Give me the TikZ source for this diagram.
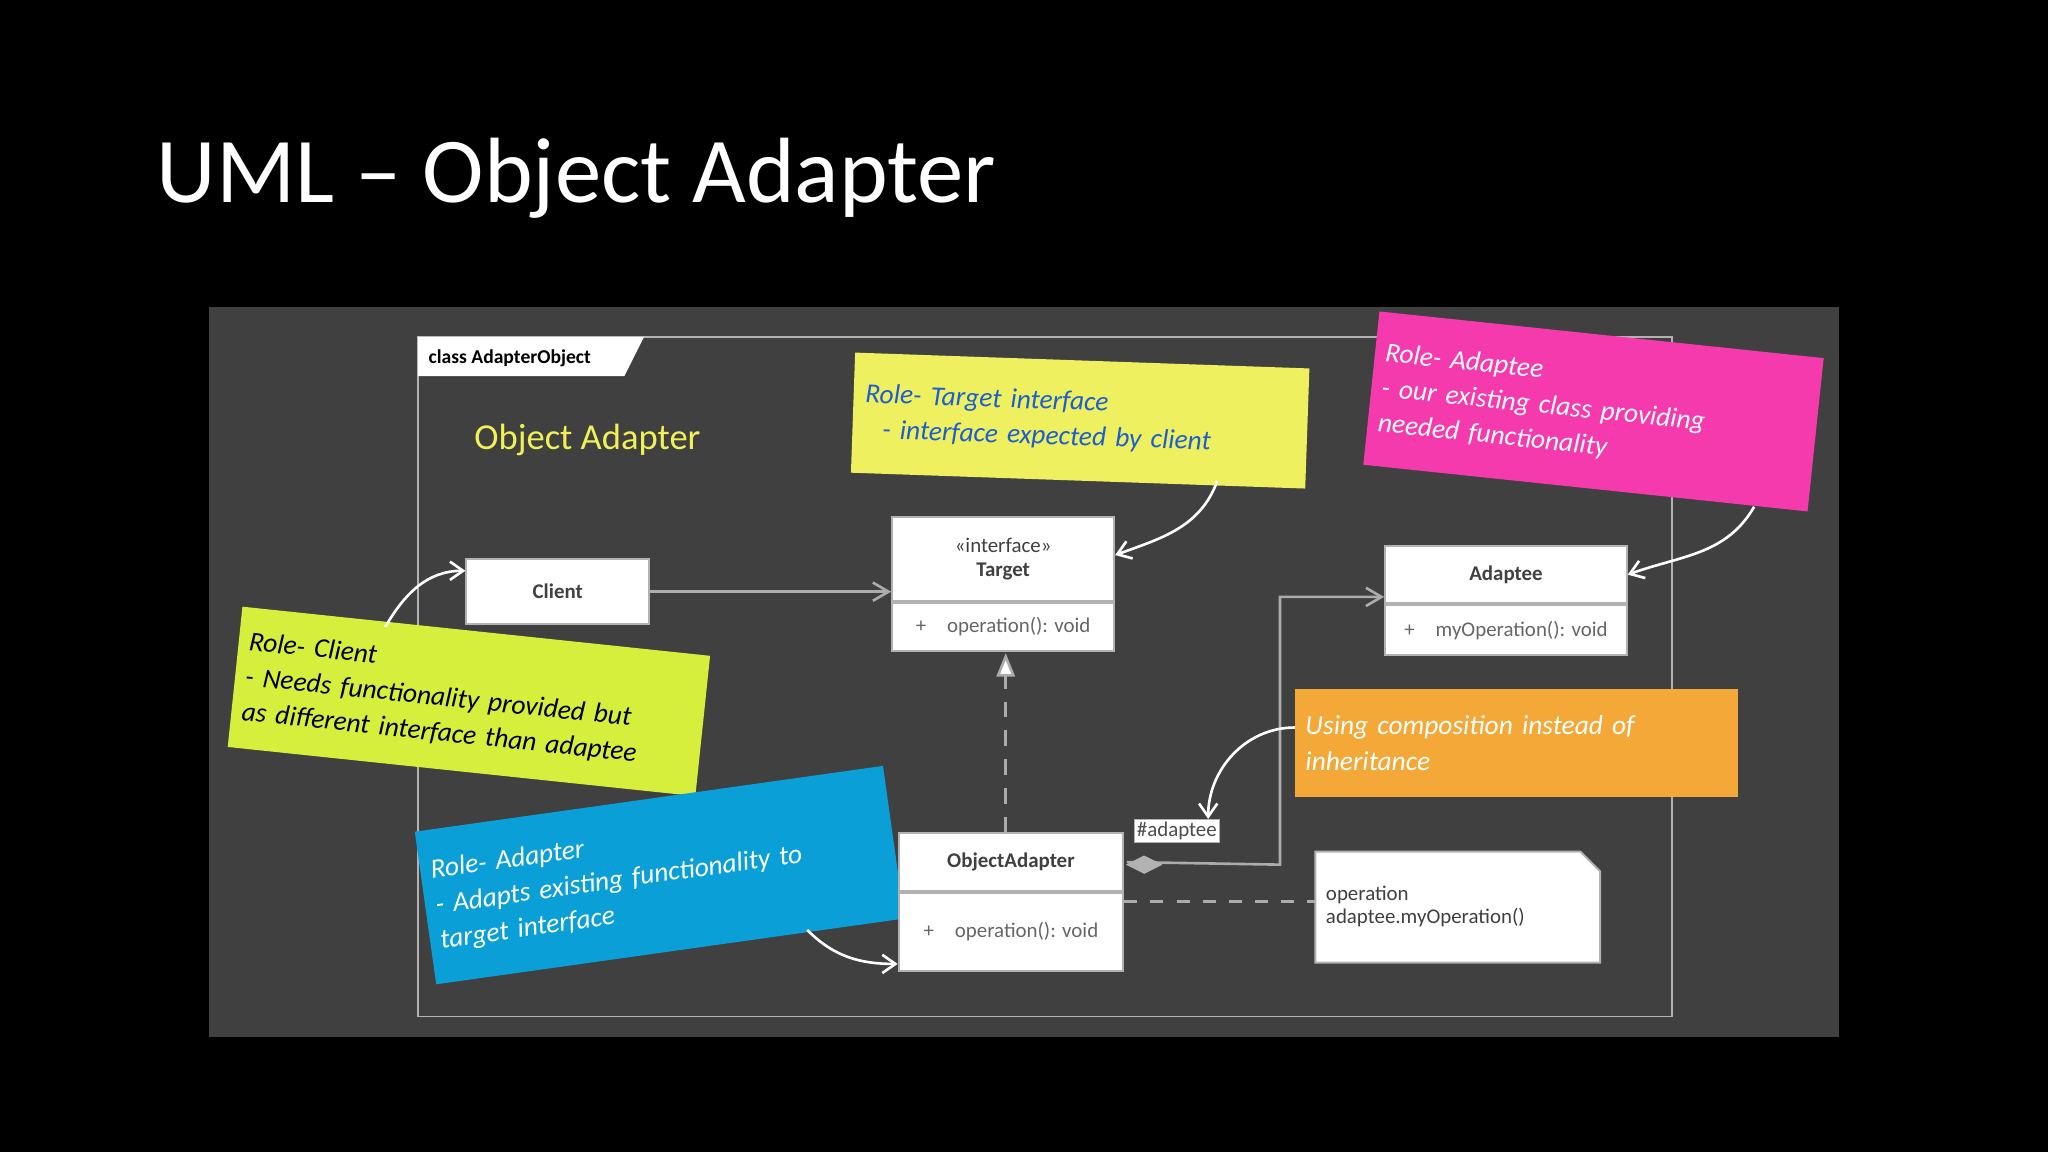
\documentclass[tikz,border=0pt]{standalone}
\usepackage{fontspec}
\setmainfont{Carlito}
\usetikzlibrary{arrows.meta,shapes.geometric,positioning}
\definecolor{panel}{HTML}{404040}
\definecolor{noteyel}{HTML}{EEF060}
\definecolor{notemag}{HTML}{F53AAE}
\definecolor{notelime}{HTML}{D6EE3C}
\definecolor{noteblue}{HTML}{0A9FD6}
\definecolor{noteorg}{HTML}{F4A838}
\definecolor{penblue}{HTML}{1E5FD0}
\tikzset{
  cls/.style={draw=gray!60,line width=1.5pt,fill=white,inner sep=0pt,font=\fontsize{16}{18}\selectfont\bfseries,text=black!75},
  mem/.style={draw=gray!60,line width=1.5pt,fill=white,inner sep=0pt,font=\fontsize{16}{18}\selectfont,text=black!60},
  note/.style={inner sep=8pt,align=left,font=\fontsize{21}{27}\selectfont\itshape,anchor=center},
  conn/.style={draw=gray!65,line width=2pt},
  callout/.style={draw=white,line width=2pt,-{Straight Barb[length=10pt,width=14pt]}}
}
\begin{document}
\begin{tikzpicture}[x=1pt,y=-1pt]
\fill[black] (0,0) rectangle (1568,882);
\useasboundingbox (0,0) rectangle (1568,882);
\node[anchor=base west,text=white,font=\fontsize{71}{76}\selectfont,inner sep=0] (title) at (120,155) {UML – Object Adapter};
\fill[panel] (160,235) rectangle (1408,794);
\draw[gray!60,line width=1pt] (320,258) rectangle (1280,778);
\fill[white] (320,258) -- (493,258) -- (478,288) -- (320,288) -- cycle;
\node[anchor=west,font=\fontsize{15}{17}\selectfont\bfseries,inner sep=0] (tab) at (328,274) {class AdapterObject};
\node[anchor=west,text=noteyel!90!yellow,font=\fontsize{28}{32}\selectfont,inner sep=0] (oa) at (363,337) {Object Adapter};
% notes
\node[note,fill=noteyel,text=penblue,minimum width=348pt,minimum height=92pt,text width=330pt,rotate=-2] (ny) at (827,322) {Role- Target interface\\\ \ - interface expected by client};
\node[note,fill=notemag,text=white,minimum width=340pt,minimum height=118pt,text width=326pt,rotate=-6] (nm) at (1220,315) {Role- Adaptee\\- our existing class providing\\needed functionality\\[4pt]};
\node[note,fill=notelime,text=black,minimum width=358pt,minimum height=108pt,text width=344pt,rotate=-6] (nl) at (359,537) {Role- Client\\- Needs functionality provided but\\as different interface than adaptee};
\node[note,fill=noteblue,text=white,minimum width=360pt,minimum height=118pt,text width=346pt,rotate=8] (nb) at (505,670) {Role- Adapter\\- Adapts existing functionality to\\target interface};
\node[note,fill=noteorg,text=white,minimum width=337pt,minimum height=83pt,text width=323pt] (no) at (1161,569) {Using composition instead of\\inheritance};
% classes
\node[cls,minimum width=140pt,minimum height=50pt] (client) at (427,453) {Client};
\node[cls,minimum width=170pt,minimum height=64pt,align=center] (target) at (768,428) {{\mdseries «interface»}\\Target};
\node[mem,minimum width=170pt,minimum height=37pt,anchor=north] (targetm) at (target.south) {+\quad operation(): void};
\node[cls,minimum width=185pt,minimum height=44pt] (adaptee) at (1153,440) {Adaptee};
\node[mem,minimum width=185pt,minimum height=38pt,anchor=north] (adapteem) at (adaptee.south) {+\quad myOperation(): void};
\node[cls,minimum width=172pt,minimum height=44pt] (adapter) at (774,660) {ObjectAdapter};
\node[mem,minimum width=172pt,minimum height=60pt,anchor=north] (adapterm) at (adapter.south) {+\quad operation(): void};
\node[fill=white,draw=gray!60,inner sep=2pt,font=\fontsize{16}{18}\selectfont,text=black!70] (lbl) at (901,636) {\#adaptee};
\draw[gray!60,line width=1.5pt,fill=white] (1007,652) -- (1210,652) -- (1225,667) -- (1225,737) -- (1007,737) -- cycle;
\node[anchor=north west,align=left,inner sep=0,font=\fontsize{16}{18}\selectfont,text=black!75] (opnote) at (1015,678) {operation\\adaptee.myOperation()};
\coordinate (opl) at (1007,690);
% connectors
\draw[conn,-{Straight Barb[length=12pt,width=14pt]}] (client.east) -- (target.west |- client.east);
\draw[conn,dashed,dash pattern=on 12pt off 10pt,-{Triangle[open,length=18pt,width=14pt,fill=white]}] (adapter.north -| 770,0) -- (770,500);
\draw[conn,-{Straight Barb[length=12pt,width=14pt]}] (adapter.east) ++(2,0) coordinate (dstart) -- (980,662) -- (980,457) -- (adaptee.west |- 0,457);
\fill[gray!60] (862,662) -- (876,655) -- (890,662) -- (876,669) -- cycle;
\draw[conn,dashed,dash pattern=on 10pt off 10pt] (adapterm.east |- opl) -- (opl);
% callouts
\draw[callout] (ny.south -| 932,0) to[out=-110,in=20] (target.east |- 0,425);
\draw[callout] (1343,388) to[out=-120,in=20] (adaptee.east |- 0,440);
\draw[callout] (295,480) to[out=60,in=180] (client.west |- 0,437);
\draw[callout] (618,712) to[out=-45,in=180] (adapterm.west |- 0,738);
\draw[callout] (no.west |- 0,557) to[out=180,in=90] (lbl.north -| 925,0);
\end{tikzpicture}
\end{document}
